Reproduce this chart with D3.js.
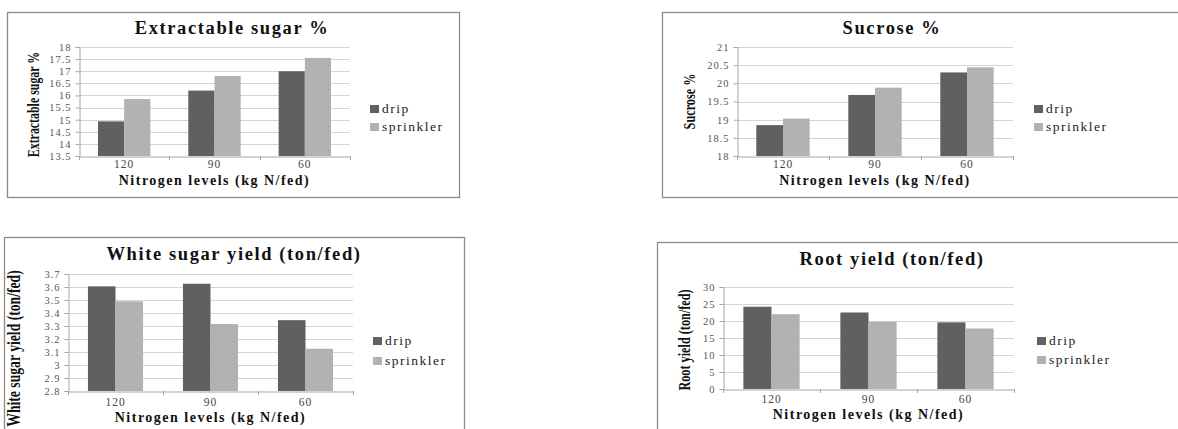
<!DOCTYPE html>
<html>
<head>
<meta charset="utf-8">
<script src="https://cdn.jsdelivr.net/npm/d3@7"></script>
<style>
  body { margin: 0; background: #fff; }
  svg { display: block; }
</style>
</head>
<body>
<svg id="chart" width="1178" height="429"></svg>
<script>
// data
const levels = ["120", "90", "60"];
const seriesNames = ["drip", "sprinkler"];
const seriesColors = ["#606060", "#b2b2b2"];

const extractDrip = [14.93, 16.2, 17.0];
const extractSprinkler = [15.85, 16.8, 17.55];

const sucroseDrip = [18.85, 19.68, 20.3];
const sucroseSprinkler = [19.03, 19.88, 20.44];

const whiteDrip = [3.605, 3.625, 3.345];
const whiteSprinkler = [3.49, 3.315, 3.125];

const rootDrip = [24.2, 22.5, 19.6];
const rootSprinkler = [22.0, 19.8, 17.8];

const extractTicks = [13.5, 14, 14.5, 15, 15.5, 16, 16.5, 17, 17.5, 18];
const sucroseTicks = [18, 18.5, 19, 19.5, 20, 20.5, 21];
const whiteTicks = [2.8, 2.9, 3, 3.1, 3.2, 3.3, 3.4, 3.5, 3.6, 3.7];
const rootTicks = [0, 5, 10, 15, 20, 25, 30];

const xTitle = "Nitrogen levels (kg N/fed)";

const serif = "'Liberation Serif', 'DejaVu Serif', serif";

let svg = d3.select("#chart");

//? panel layout
let panels = [
    {
        title: "Extractable sugar %", yTitle: "Extractable sugar %",
        values: [extractDrip, extractSprinkler], ticks: extractTicks,
        box: [7, 12, 452, 185],
        plot: [79, 47, 350, 156],
        titleX: 232, titleY: 34, catY: 168, xTitleY: 185,
        yTitleX: 39, yTitleDy: 3, yTitleSize: 17, yTitleScale: 0.7,
        legendX: 370, legendY: [109, 127]
    },
    {
        title: "Sucrose %", yTitle: "Sucrose %",
        values: [sucroseDrip, sucroseSprinkler], ticks: sucroseTicks,
        box: [662, 12, 530, 185],
        plot: [737, 47, 1013, 156],
        titleX: 892, titleY: 34, catY: 168, xTitleY: 185,
        yTitleX: 695, yTitleDy: 0, yTitleSize: 17, yTitleScale: 0.72,
        legendX: 1034, legendY: [109, 127]
    },
    {
        title: "White sugar yield (ton/fed)", yTitle: "White sugar yield (ton/fed)",
        values: [whiteDrip, whiteSprinkler], ticks: whiteTicks,
        box: [4, 237, 460, 200],
        plot: [68, 274, 353, 391],
        titleX: 234, titleY: 260, catY: 406, xTitleY: 422,
        yTitleX: 20, yTitleDy: 16, yTitleSize: 18, yTitleScale: 0.76,
        legendX: 373, legendY: [341, 361]
    },
    {
        title: "Root yield (ton/fed)", yTitle: "Root yield (ton/fed)",
        values: [rootDrip, rootSprinkler], ticks: rootTicks,
        box: [657, 242, 530, 200],
        plot: [723, 287, 1014, 389],
        titleX: 892, titleY: 265, catY: 403, xTitleY: 419,
        yTitleX: 690, yTitleDy: 2, yTitleSize: 17, yTitleScale: 0.72,
        legendX: 1037, legendY: [341, 360]
    }
];

panels.forEach(drawPanel);

function drawPanel(p) {
    let g = svg.append("g");
    let [x0, y0, x1, y1] = p.plot;

    // frame
    g.append("rect")
        .attr("x", p.box[0] + 0.5).attr("y", p.box[1] + 0.5)
        .attr("width", p.box[2]).attr("height", p.box[3])
        .attr("fill", "none").attr("stroke", "#8a8a8a").attr("stroke-width", 1.3);

    let x = d3.scaleBand().domain(levels).range([x0, x1])
        .paddingInner(0.42).paddingOuter(0.21);
    let xs = d3.scaleBand().domain(seriesNames).range([0, x.bandwidth()]);
    let y = d3.scaleLinear()
        .domain([p.ticks[0], p.ticks[p.ticks.length - 1]])
        .range([y1, y0]);

    // gridlines
    g.append("g").selectAll("line")
        .data(p.ticks.slice(1))
        .enter().append("line")
        .attr("x1", x0).attr("x2", x1)
        .attr("y1", d => Math.round(y(d)) + 0.5)
        .attr("y2", d => Math.round(y(d)) + 0.5)
        .attr("stroke", "#d4d4d4");

    // y axis
    let yAxis = g.append("g")
        .attr("transform", `translate(${x0 + 0.5},0)`)
        .call(d3.axisLeft(y).tickValues(p.ticks).tickSize(4).tickPadding(4)
            .tickFormat(d => String(+d.toFixed(1))));
    yAxis.attr("font-family", serif);
    yAxis.select(".domain").attr("stroke", "#a6a6a6");
    yAxis.selectAll(".tick line").attr("stroke", "#a6a6a6");
    yAxis.selectAll("text")
        .attr("font-family", serif).attr("font-size", 10.5)
        .attr("fill", "#555").attr("letter-spacing", 1);

    // bars
    g.append("g").selectAll("g")
        .data(p.values)
        .enter().append("g")
        .attr("fill", (d, i) => seriesColors[i])
        .each(function (vals, i) {
            d3.select(this).selectAll("rect")
                .data(vals)
                .enter().append("rect")
                .attr("x", (v, j) => x(levels[j]) + xs(seriesNames[i]))
                .attr("width", xs.bandwidth())
                .attr("y", v => y(v))
                .attr("height", v => y1 - y(v));
        });

    // x axis line
    let xAxis = g.append("g")
        .attr("transform", `translate(0,${Math.round(y1) + 0.5})`)
        .call(d3.axisBottom(x).tickSize(0).tickFormat(""));
    xAxis.select(".domain").attr("stroke", "#a6a6a6");
    xAxis.selectAll(".tick").remove();

    // little ticks between categories
    let step = x.step();
    g.append("g").selectAll("line")
        .data(d3.range(levels.length + 1))
        .enter().append("line")
        .attr("x1", i => Math.round(x0 + i * step) + 0.5)
        .attr("x2", i => Math.round(x0 + i * step) + 0.5)
        .attr("y1", y1).attr("y2", y1 + 4)
        .attr("stroke", "#a6a6a6");

    g.append("g").selectAll("text")
        .data(levels)
        .enter().append("text")
        .attr("x", d => x(d) + x.bandwidth() / 2)
        .attr("y", p.catY)
        .attr("text-anchor", "middle")
        .attr("font-family", serif).attr("font-size", 11.5)
        .attr("letter-spacing", 1)
        .attr("fill", "#444")
        .text(d => d);

    // titles
    g.append("text")
        .attr("x", p.titleX)
        .attr("y", p.titleY)
        .attr("text-anchor", "middle")
        .attr("font-family", serif).attr("font-weight", "bold")
        .attr("font-size", 18.5).attr("letter-spacing", 1.6)
        .attr("fill", "#111")
        .text(p.title);

    g.append("text")
        .attr("x", (x0 + x1) / 2)
        .attr("y", p.xTitleY)
        .attr("text-anchor", "middle")
        .attr("font-family", serif).attr("font-weight", "bold")
        .attr("font-size", 14).attr("letter-spacing", 1.5)
        .attr("fill", "#111")
        .text(xTitle);

    g.append("text")
        .attr("transform", `translate(${p.yTitleX},${(y0 + y1) / 2 + p.yTitleDy}) rotate(-90) scale(${p.yTitleScale},1)`)
        .attr("text-anchor", "middle")
        .attr("font-family", serif).attr("font-weight", "bold")
        .attr("font-size", p.yTitleSize)
        .attr("fill", "#111")
        .text(p.yTitle);

    // legend
    let leg = g.append("g").selectAll("g")
        .data(seriesNames)
        .enter().append("g")
        .attr("transform", (d, i) => `translate(${p.legendX},${p.legendY[i]})`);
    leg.append("rect")
        .attr("x", 0).attr("y", -4)
        .attr("width", 9).attr("height", 8)
        .attr("fill", (d, i) => seriesColors[i]);
    leg.append("text")
        .attr("x", 12).attr("y", 4)
        .attr("font-family", serif).attr("font-size", 13.5)
        .attr("letter-spacing", 1.5)
        .attr("fill", "#222")
        .text(d => d);
}
</script>
</body>
</html>
